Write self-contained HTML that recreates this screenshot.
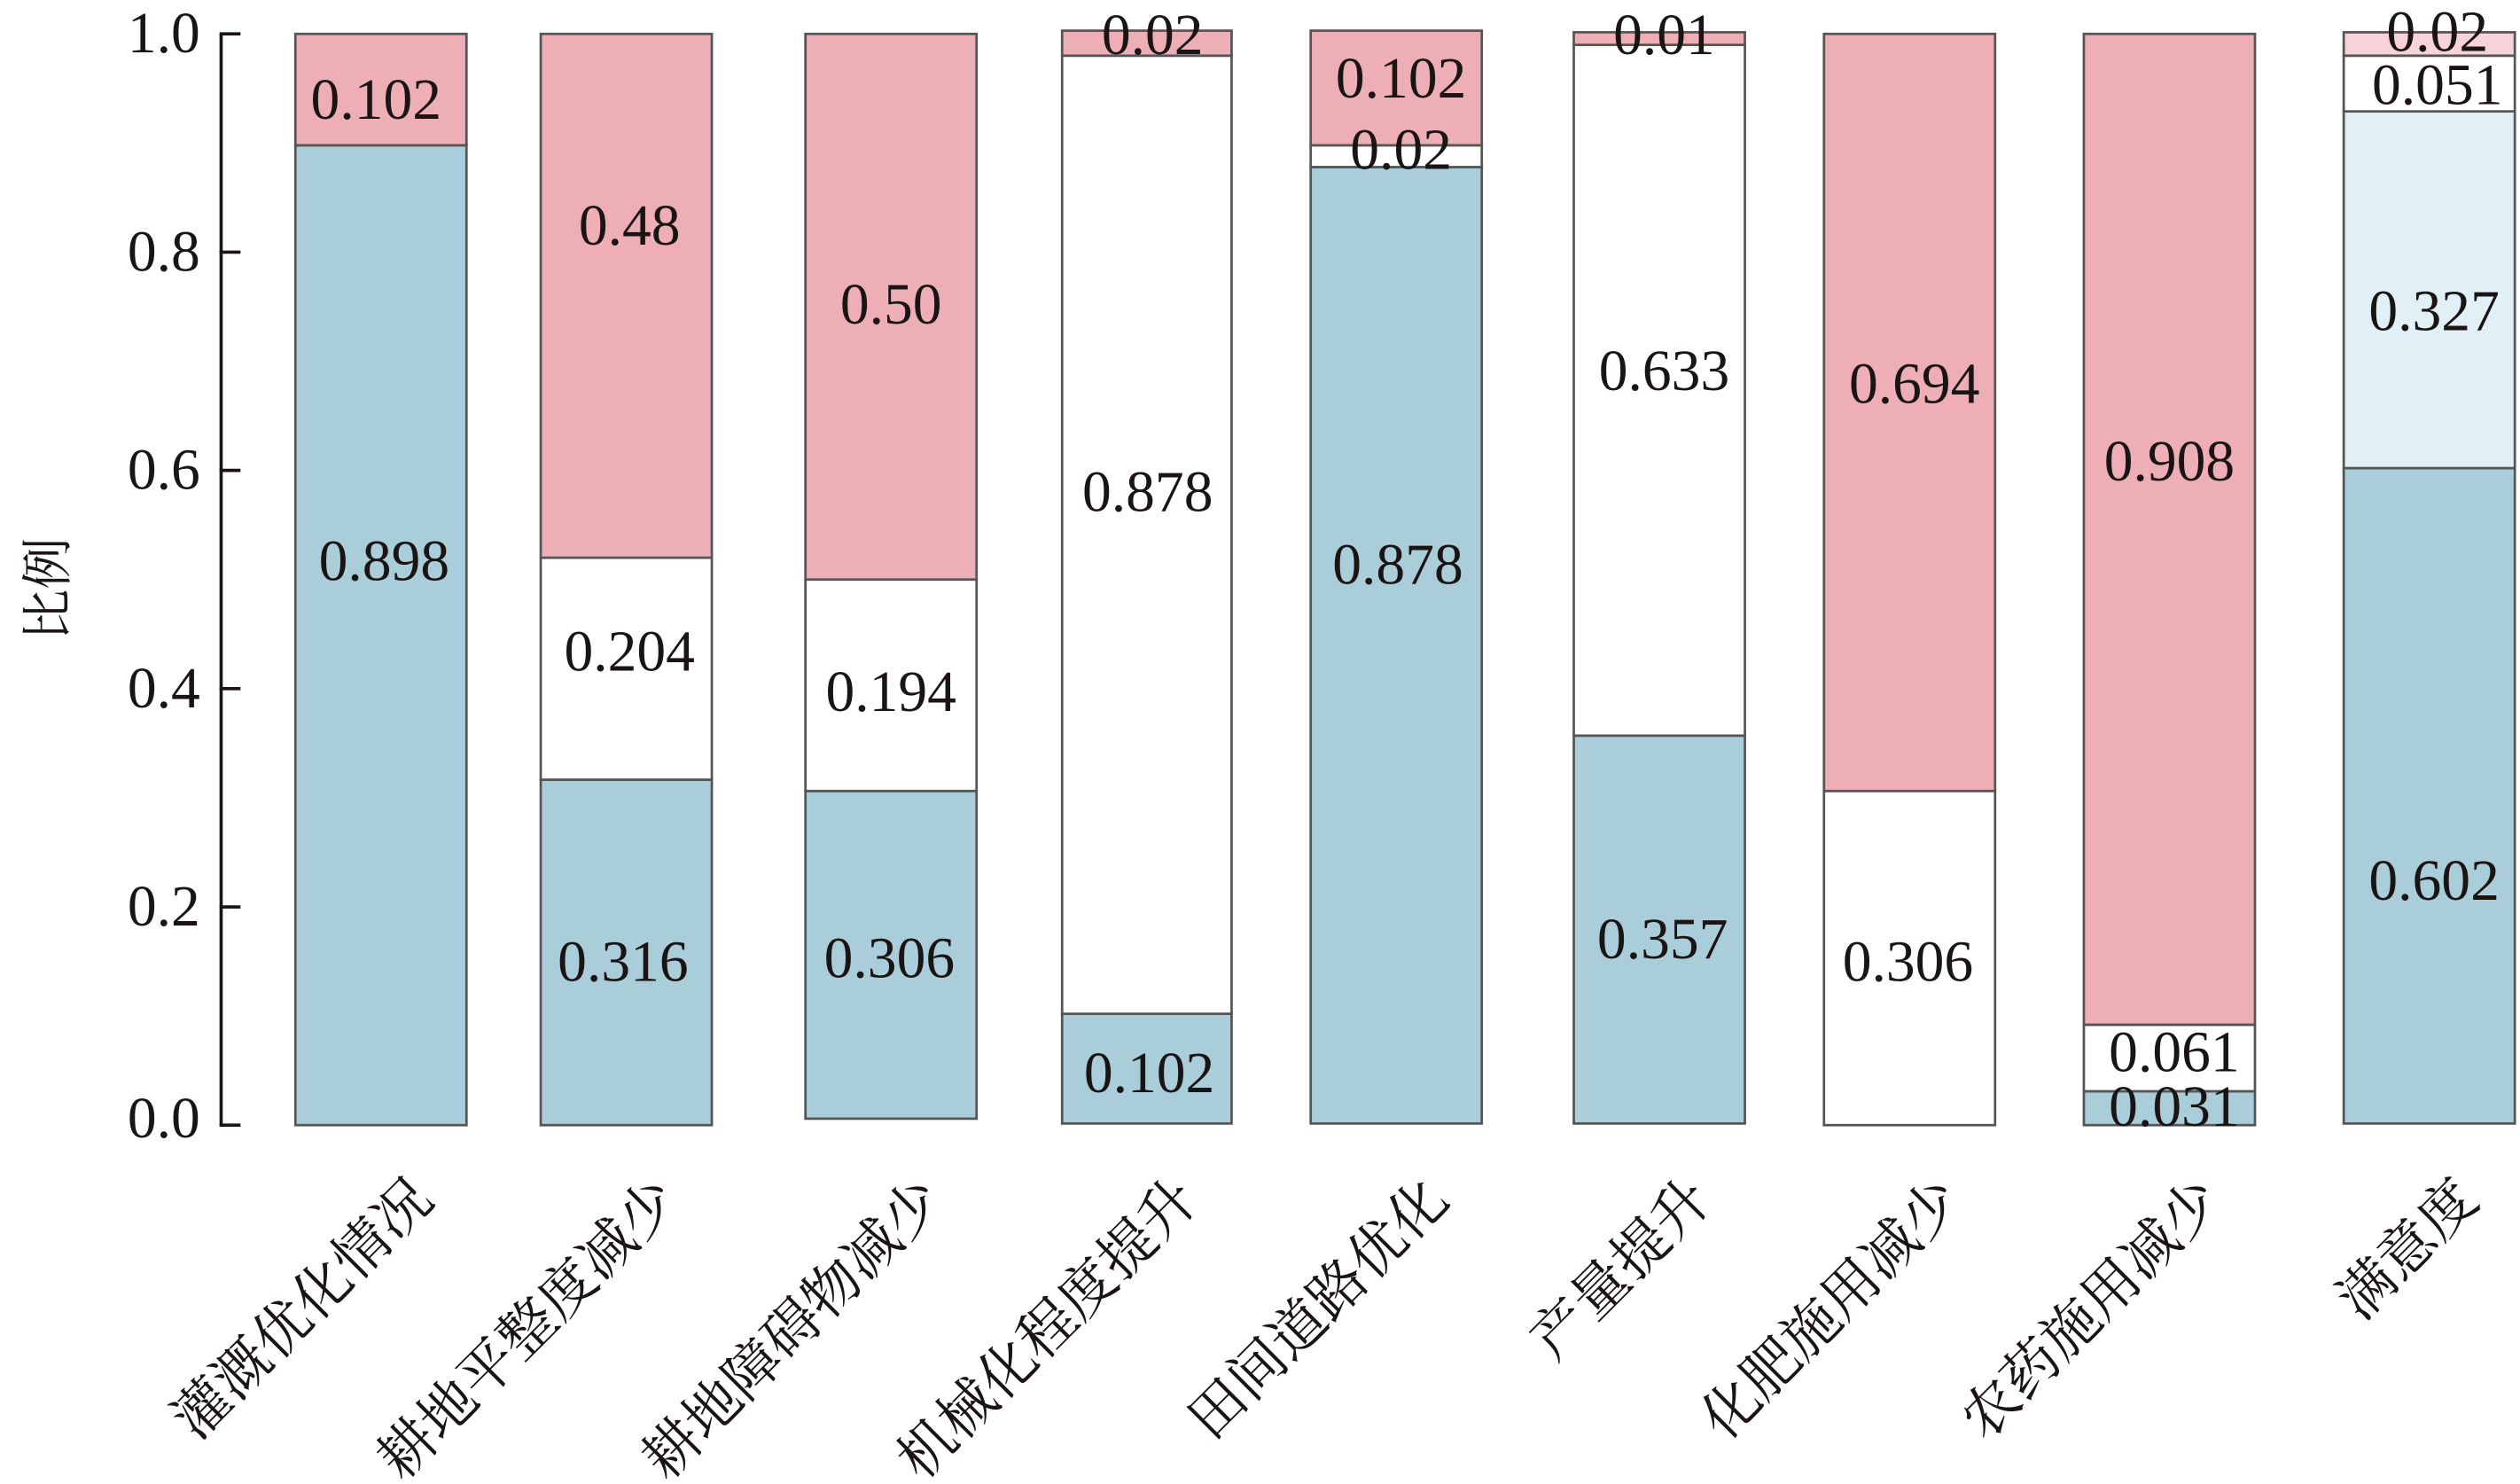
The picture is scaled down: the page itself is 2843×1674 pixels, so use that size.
<!DOCTYPE html>
<html><head><meta charset="utf-8"><style>
html,body{margin:0;padding:0;background:#fff;}
svg{display:block;}
text{font-family:"Liberation Serif","Noto Serif CJK SC","Noto Sans CJK SC",serif;fill:#1a1414;}
</style></head><body>
<svg width="2843" height="1674" viewBox="0 0 1561.2 919.3" preserveAspectRatio="none" xmlns="http://www.w3.org/2000/svg">
<g stroke="#555" stroke-width="1.5">
<rect x="183" y="90" width="106" height="607" fill="#a9cdd9"/>
<rect x="183" y="21" width="106" height="69" fill="#eeaeb6"/>
<rect x="335" y="483" width="106" height="214" fill="#a9cdd9"/>
<rect x="335" y="345.5" width="106" height="137.5" fill="#fff"/>
<rect x="335" y="21" width="106" height="324.5" fill="#eeaeb6"/>
<rect x="499" y="490" width="106" height="203" fill="#a9cdd9"/>
<rect x="499" y="359" width="106" height="131" fill="#fff"/>
<rect x="499" y="21" width="106" height="338" fill="#eeaeb6"/>
<rect x="658" y="628" width="105" height="68" fill="#a9cdd9"/>
<rect x="658" y="34.5" width="105" height="593.5" fill="#fff"/>
<rect x="658" y="19" width="105" height="15.5" fill="#eeaeb6"/>
<rect x="812" y="103.5" width="106" height="592.5" fill="#a9cdd9"/>
<rect x="812" y="90" width="106" height="13.5" fill="#fff"/>
<rect x="812" y="19" width="106" height="71" fill="#eeaeb6"/>
<rect x="975" y="455.7" width="106" height="240.3" fill="#a9cdd9"/>
<rect x="975" y="27.8" width="106" height="427.9" fill="#fff"/>
<rect x="975" y="20" width="106" height="7.8" fill="#eeaeb6"/>
<rect x="1130" y="490" width="106" height="207" fill="#fff"/>
<rect x="1130" y="21" width="106" height="469" fill="#eeaeb6"/>
<rect x="1291" y="676" width="106" height="21" fill="#a9cdd9"/>
<rect x="1291" y="634.8" width="106" height="41.2" fill="#fff"/>
<rect x="1291" y="21" width="106" height="613.8" fill="#eeaeb6"/>
<rect x="1452" y="290" width="106" height="406" fill="#a9cdd9"/>
<rect x="1452" y="69" width="106" height="221" fill="#e0f0f6"/>
<rect x="1452" y="34.5" width="106" height="34.5" fill="#fff"/>
<rect x="1452" y="20" width="106" height="14.5" fill="#f6d3d8"/>
</g>
<g stroke="#1a1414" stroke-width="2">
<line x1="137" y1="21" x2="137" y2="697"/>
<line x1="136" y1="21" x2="149" y2="21"/>
<line x1="136" y1="156.2" x2="149" y2="156.2"/>
<line x1="136" y1="291.4" x2="149" y2="291.4"/>
<line x1="136" y1="426.6" x2="149" y2="426.6"/>
<line x1="136" y1="561.8" x2="149" y2="561.8"/>
<line x1="136" y1="697" x2="149" y2="697"/>
</g>
<g font-size="36" text-anchor="end" dominant-baseline="central">
<text x="124" y="21">1.0</text>
<text x="124" y="156.2">0.8</text>
<text x="124" y="291.4">0.6</text>
<text x="124" y="426.6">0.4</text>
<text x="124" y="561.8">0.2</text>
<text x="124" y="693">0.0</text>
</g>
<text x="30" y="365" font-size="32" text-anchor="middle" dominant-baseline="central" transform="rotate(-90 30 365)">比例</text>
<g font-size="36" text-anchor="middle" dominant-baseline="central">
<text x="233" y="62">0.102</text><text x="238" y="348">0.898</text>
<text x="390" y="140">0.48</text><text x="390" y="404">0.204</text><text x="386" y="596">0.316</text>
<text x="552" y="189">0.50</text><text x="552" y="429">0.194</text><text x="551" y="594">0.306</text>
<text x="714" y="22">0.02</text><text x="711" y="305">0.878</text><text x="712" y="665">0.102</text>
<text x="868" y="49">0.102</text><text x="868" y="93">0.02</text><text x="866" y="350">0.878</text>
<text x="1031" y="22">0.01</text><text x="1031" y="230">0.633</text><text x="1030" y="582">0.357</text>
<text x="1186" y="238">0.694</text><text x="1182" y="596">0.306</text>
<text x="1344" y="286">0.908</text><text x="1347" y="652">0.061</text><text x="1347" y="686">0.031</text>
<text x="1510" y="20">0.02</text><text x="1510" y="53">0.051</text><text x="1508" y="193">0.327</text><text x="1508" y="546">0.602</text>
</g>
<g font-size="35" text-anchor="end">
<text x="270" y="745" transform="rotate(-45 270 745)">灌溉优化情况</text>
<text x="422" y="745" transform="rotate(-45 422 745)">耕地平整度减少</text>
<text x="586" y="745" transform="rotate(-45 586 745)">耕地障碍物减少</text>
<text x="744" y="745" transform="rotate(-45 744 745)">机械化程度提升</text>
<text x="899" y="745" transform="rotate(-45 899 745)">田间道路优化</text>
<text x="1062" y="745" transform="rotate(-45 1062 745)">产量提升</text>
<text x="1217" y="745" transform="rotate(-45 1217 745)">化肥施用减少</text>
<text x="1378" y="745" transform="rotate(-45 1378 745)">农药施用减少</text>
<text x="1537" y="745" transform="rotate(-45 1537 745)">满意度</text>
</g>
</svg>
</body></html>
